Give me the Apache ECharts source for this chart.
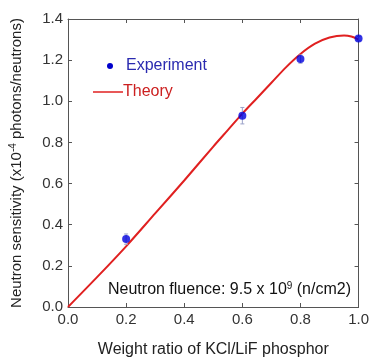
<!DOCTYPE html>
<html lang="en">
<head>
    <meta charset="UTF-8">
    <title>Neutron sensitivity</title>
    <script src="https://cdn.jsdelivr.net/npm/echarts@6/dist/echarts.min.js"></script>
    <style>
        html, body { margin: 0; padding: 0; background: #fff; }
    </style>
</head>
<body>
    <div id="main" style="width: 372px;height:363px;"></div>
    <script type="text/javascript">
        // experiment points
        var expX = [0.2, 0.6, 0.8, 1.0];
        var expY = [0.33, 0.93, 1.205, 1.305];
        var expErr = [0.025, 0.04, 0.02, 0.01];
        // theory curve
        var theoryX = [0, 0.1, 0.2, 0.3, 0.4, 0.5, 0.55, 0.6, 0.65, 0.7, 0.75, 0.8, 0.85, 0.9, 0.95, 0.975, 1.0];
        var theoryY = [0, 0.145, 0.295, 0.455, 0.615, 0.78, 0.86, 0.94, 1.015, 1.09, 1.165, 1.23, 1.28, 1.31, 1.32, 1.315, 1.30];

        var expData = expX.map(function (x, i) { return [x, expY[i]]; });
        var errData = expX.map(function (x, i) { return [x, expY[i] - expErr[i], expY[i] + expErr[i]]; });
        var theoryData = theoryX.map(function (x, i) { return [x, theoryY[i]]; });

        var font = 'Liberation Sans, Arial, sans-serif';
        var axisColor = '#555';
        var myChart = echarts.init(document.getElementById('main'));

        function frameAxis(extra) {
            var a = {
                type: 'value',
                axisLine: { show: true, onZero: false, lineStyle: { color: axisColor } },
                axisTick: { show: true, inside: true, length: 4, lineStyle: { color: axisColor } },
                axisLabel: { show: false },
                splitLine: { show: false }
            };
            for (var k in extra) a[k] = extra[k];
            return a;
        }

        var option = {
            animation: false,
            grid: { left: 68, right: 10, top: 19, bottom: 53 },
            xAxis: [
                frameAxis({
                    min: 0, max: 1, interval: 0.2, position: 'bottom',
                    name: 'Weight ratio of KCl/LiF phosphor',
                    nameLocation: 'middle', nameGap: 35,
                    nameTextStyle: { fontSize: 16, color: '#222', fontFamily: font },
                    axisLabel: { show: true, fontSize: 15, color: '#333', fontFamily: font, margin: 5,
                        formatter: function (v) { return v.toFixed(1); } }
                }),
                frameAxis({ min: 0, max: 1, interval: 0.2, position: 'top' })
            ],
            yAxis: [
                frameAxis({
                    min: 0, max: 1.4, interval: 0.2, position: 'left',
                    name: 'Neutron sensitivity (x10{sup|-4} photons/neutrons)',
                    nameLocation: 'middle', nameGap: 42,
                    nameTextStyle: { fontSize: 15, color: '#222', fontFamily: font,
                        rich: { sup: { fontSize: 10, color: '#222', fontFamily: font, padding: [0, 0, 8, 0] } } },
                    axisLabel: { show: true, fontSize: 15, color: '#333', fontFamily: font, margin: 5,
                        formatter: function (v) { return v.toFixed(1); } }
                }),
                frameAxis({ min: 0, max: 1.4, interval: 0.2, position: 'right' })
            ],
            graphic: [
                { type: 'circle', shape: { cx: 110, cy: 66, r: 3 }, style: { fill: '#0000cc' } },
                { type: 'text', x: 126, y: 66, style: { text: 'Experiment', fill: '#2a2ab0', font: '16px ' + font, verticalAlign: 'middle' } },
                { type: 'line', shape: { x1: 93, y1: 92, x2: 123, y2: 92 }, style: { stroke: '#e02020', lineWidth: 1.5 } },
                { type: 'text', x: 123, y: 92, style: { text: 'Theory', fill: '#cc2020', font: '16px ' + font, verticalAlign: 'middle' } },
                { type: 'text', x: 108, y: 290, style: {
                    text: 'Neutron fluence: 9.5 x 10{sup|9} (n/cm2)', fill: '#111',
                    font: '16px ' + font, verticalAlign: 'middle',
                    rich: { sup: { fontSize: 10, fill: '#111', fontFamily: font, padding: [0, 0, 8, 0] } } } }
            ],
            series: [
                {
                    name: 'Theory', type: 'line', data: theoryData, smooth: 0.3,
                    showSymbol: false, lineStyle: { color: '#e02020', width: 2 }, z: 2
                },
                {
                    name: 'Error', type: 'custom', data: errData, z: 3,
                    renderItem: function (params, api) {
                        var lo = api.coord([api.value(0), api.value(1)]);
                        var hi = api.coord([api.value(0), api.value(2)]);
                        var w = 2;
                        var st = { stroke: '#9aa0c8', lineWidth: 1 };
                        return {
                            type: 'group',
                            children: [
                                { type: 'line', shape: { x1: lo[0], y1: lo[1], x2: hi[0], y2: hi[1] }, style: st },
                                { type: 'line', shape: { x1: lo[0] - w, y1: lo[1], x2: lo[0] + w, y2: lo[1] }, style: st },
                                { type: 'line', shape: { x1: hi[0] - w, y1: hi[1], x2: hi[0] + w, y2: hi[1] }, style: st }
                            ]
                        };
                    }
                },
                {
                    name: 'Experiment', type: 'scatter', data: expData, symbolSize: 8,
                    itemStyle: { color: '#0000dd' }, z: 4
                }
            ]
        };
        myChart.setOption(option);
    </script>
</body>
</html>
